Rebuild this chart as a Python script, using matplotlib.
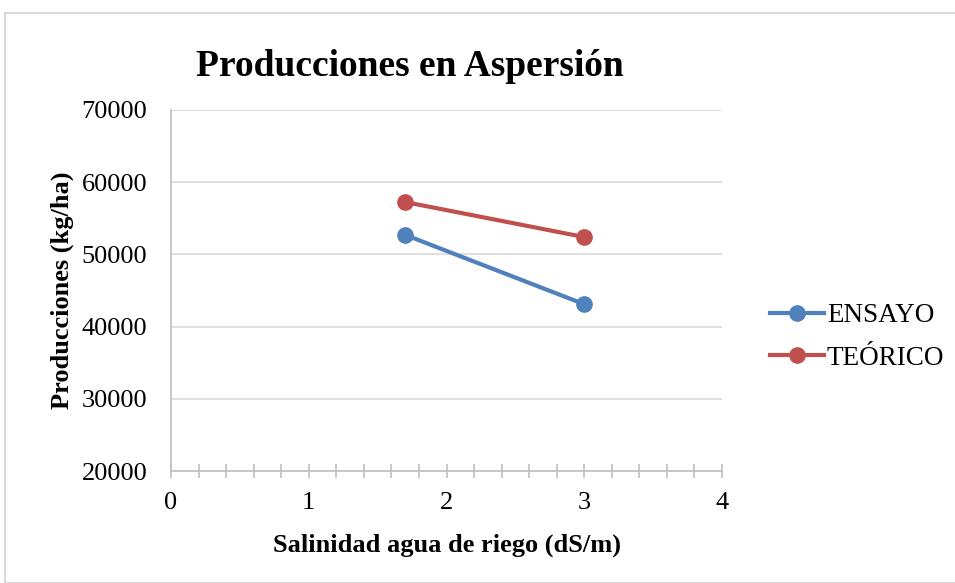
import matplotlib
matplotlib.use("Agg")
import matplotlib.pyplot as plt
from matplotlib.ticker import MultipleLocator
from matplotlib.patches import Rectangle

x_values = [1.7, 3.0]
ensayo = [52700, 43100]
teorico = [57250, 52400]
series_names = ["ENSAYO", "TEÓRICO"]
title = "Producciones en Aspersión"
xlabel = "Salinidad agua de riego (dS/m)"
ylabel = "Producciones (kg/ha)"

plt.rcParams['font.family'] = ['Liberation Serif', 'DejaVu Serif']

fig = plt.figure(figsize=(9.55, 5.83), dpi=100)
ax_left, ax_right, ax_top, ax_bot = 171, 722, 110, 471
ax = fig.add_axes([ax_left/955, 1 - ax_bot/583, (ax_right-ax_left)/955, (ax_bot-ax_top)/583])

blue = '#4F81BD'
red = '#C0504D'
ax.plot(x_values, ensayo, color=blue, lw=3, marker='o', ms=11, label=series_names[0])
ax.plot(x_values, teorico, color=red, lw=3, marker='o', ms=11, label=series_names[1])

ax.set_xlim(0, 4)
ax.set_ylim(20000, 70000)
ax.xaxis.set_major_locator(MultipleLocator(1))
ax.xaxis.set_minor_locator(MultipleLocator(0.2))
ax.yaxis.set_major_locator(MultipleLocator(10000))
ax.grid(axis='y', color='#D9D9D9', lw=1.2)
ax.set_axisbelow(True)
for s in ['top', 'right']:
    ax.spines[s].set_visible(False)
for s in ['left', 'bottom']:
    ax.spines[s].set_color('#BFBFBF')
    ax.spines[s].set_linewidth(1.2)
ax.tick_params(axis='x', which='both', direction='inout', length=10, color='#BFBFBF', width=1.2, labelsize=19, pad=10)
ax.tick_params(axis='y', which='both', length=0, labelsize=19, pad=17)

ax.set_xlabel(xlabel, fontsize=19, fontweight='bold')
ax.xaxis.set_label_coords(0.5, -(545 - ax_bot) / (ax_bot - ax_top), transform=ax.transAxes)
ax.set_ylabel(ylabel, fontsize=19, fontweight='bold')
ax.yaxis.set_label_coords(-(ax_left - 62) / (ax_right - ax_left), 0.5, transform=ax.transAxes)
ax.xaxis.label.set_va('center')
ax.yaxis.label.set_va('center')

fig.text(410/955, 1 - 67/583, title, fontsize=27, fontweight='bold', ha='center', va='center')

leg = fig.legend(loc='center left', bbox_to_anchor=(770/955, 1 - 337/583), frameon=False,
                 fontsize=19.5, handlelength=2.0, handletextpad=0.1, labelspacing=0.65,
                 borderaxespad=0, borderpad=0)

fig.patches.append(Rectangle((5/955, 0), 1, 1 - 13/583, transform=fig.transFigure,
                             fill=False, edgecolor='#D9D9D9', lw=1.5))

fig.savefig('out.png', dpi=100)
